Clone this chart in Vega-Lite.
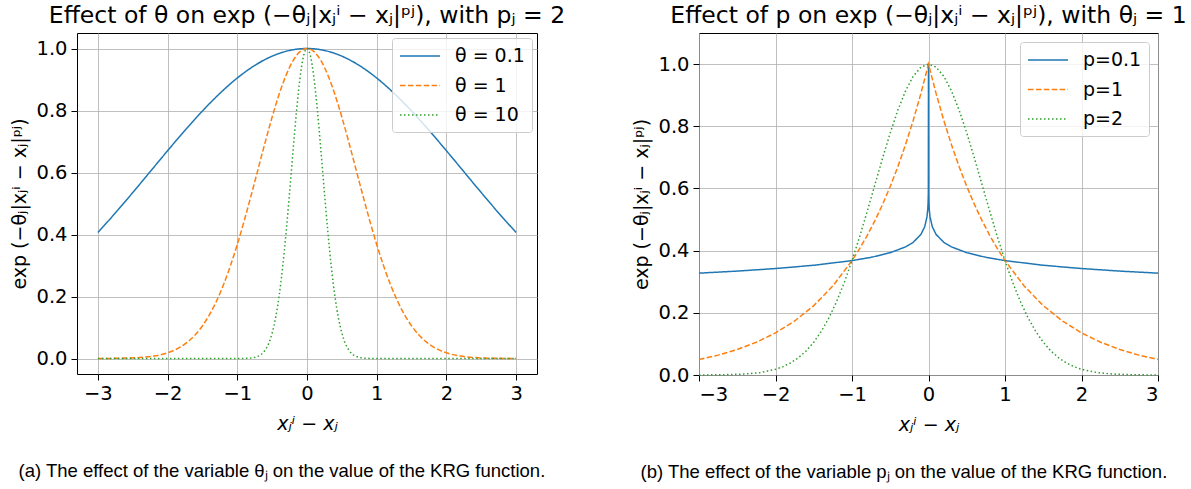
{
 "$schema": "https://vega.github.io/schema/vega-lite/v6.json",
 "background": "white",
 "padding": {"left": 10, "top": 3, "right": 5, "bottom": 5},
 "spacing": 66,
 "config": {
  "font": "DejaVu Sans",
  "view": {"stroke": "black", "strokeWidth": 1},
  "axis": {"labelFont": "DejaVu Sans", "labelFontSize": 19.5, "labelColor": "black", "titleFont": "DejaVu Sans", "titleFontSize": 19, "titleFontWeight": "normal", "titleColor": "black", "tickColor": "black", "tickSize": 6, "tickWidth": 1, "gridColor": "#b0b0b0", "gridWidth": 0.8, "domain": false, "labelPadding": 4},
  "axisX": {"titlePadding": 12},
  "axisY": {"titlePadding": 6},
  "title": {"font": "DejaVu Sans", "fontSize": 23.5, "fontWeight": "normal", "color": "black"},
  "legend": {"fillColor": "rgba(255,255,255,0.8)", "strokeColor": "#cccccc", "cornerRadius": 3, "padding": 7, "symbolType": "M-2,0H2", "symbolSize": 400, "symbolOffset": 10, "symbolStrokeWidth": 1.5, "labelFont": "DejaVu Sans", "labelFontSize": 19, "labelColor": "black", "labelOffset": 24, "rowPadding": 8.5}
 },
 "datasets": {
  "left": [
   {"x": -3, "y": 0.40657, "s": "θ = 0.1"}, {"x": -2.75, "y": 0.46942, "s": "θ = 0.1"}, {"x": -2.5, "y": 0.53526, "s": "θ = 0.1"}, {"x": -2.25, "y": 0.60276, "s": "θ = 0.1"}, {"x": -2, "y": 0.67032, "s": "θ = 0.1"}, {"x": -1.75, "y": 0.73619, "s": "θ = 0.1"}, {"x": -1.5, "y": 0.79852, "s": "θ = 0.1"}, {"x": -1.25, "y": 0.85535, "s": "θ = 0.1"}, {"x": -1, "y": 0.90484, "s": "θ = 0.1"}, {"x": -0.75, "y": 0.94531, "s": "θ = 0.1"}, {"x": -0.5, "y": 0.97531, "s": "θ = 0.1"}, {"x": -0.25, "y": 0.99377, "s": "θ = 0.1"}, {"x": 0, "y": 1, "s": "θ = 0.1"}, {"x": 0.25, "y": 0.99377, "s": "θ = 0.1"}, {"x": 0.5, "y": 0.97531, "s": "θ = 0.1"}, {"x": 0.75, "y": 0.94531, "s": "θ = 0.1"}, {"x": 1, "y": 0.90484, "s": "θ = 0.1"}, {"x": 1.25, "y": 0.85535, "s": "θ = 0.1"}, {"x": 1.5, "y": 0.79852, "s": "θ = 0.1"}, {"x": 1.75, "y": 0.73619, "s": "θ = 0.1"}, {"x": 2, "y": 0.67032, "s": "θ = 0.1"}, {"x": 2.25, "y": 0.60276, "s": "θ = 0.1"}, {"x": 2.5, "y": 0.53526, "s": "θ = 0.1"}, {"x": 2.75, "y": 0.46942, "s": "θ = 0.1"}, {"x": 3, "y": 0.40657, "s": "θ = 0.1"},
   {"x": -3, "y": 0.00012, "s": "θ = 1"}, {"x": -2.7, "y": 0.00068, "s": "θ = 1"}, {"x": -2.4, "y": 0.00315, "s": "θ = 1"}, {"x": -2.2, "y": 0.00791, "s": "θ = 1"}, {"x": -2.0, "y": 0.01832, "s": "θ = 1"}, {"x": -1.9, "y": 0.02705, "s": "θ = 1"}, {"x": -1.8, "y": 0.03916, "s": "θ = 1"}, {"x": -1.7, "y": 0.05558, "s": "θ = 1"}, {"x": -1.6, "y": 0.0773, "s": "θ = 1"}, {"x": -1.5, "y": 0.1054, "s": "θ = 1"}, {"x": -1.4, "y": 0.14086, "s": "θ = 1"}, {"x": -1.3, "y": 0.18452, "s": "θ = 1"}, {"x": -1.2, "y": 0.23693, "s": "θ = 1"}, {"x": -1.1, "y": 0.2982, "s": "θ = 1"}, {"x": -1.0, "y": 0.36788, "s": "θ = 1"}, {"x": -0.9, "y": 0.44486, "s": "θ = 1"}, {"x": -0.8, "y": 0.52729, "s": "θ = 1"}, {"x": -0.7, "y": 0.61263, "s": "θ = 1"}, {"x": -0.6, "y": 0.69768, "s": "θ = 1"}, {"x": -0.5, "y": 0.7788, "s": "θ = 1"}, {"x": -0.4, "y": 0.85214, "s": "θ = 1"}, {"x": -0.3, "y": 0.91393, "s": "θ = 1"}, {"x": -0.2, "y": 0.96079, "s": "θ = 1"}, {"x": -0.1, "y": 0.99005, "s": "θ = 1"}, {"x": 0, "y": 1, "s": "θ = 1"}, {"x": 0.1, "y": 0.99005, "s": "θ = 1"}, {"x": 0.2, "y": 0.96079, "s": "θ = 1"}, {"x": 0.3, "y": 0.91393, "s": "θ = 1"}, {"x": 0.4, "y": 0.85214, "s": "θ = 1"}, {"x": 0.5, "y": 0.7788, "s": "θ = 1"}, {"x": 0.6, "y": 0.69768, "s": "θ = 1"}, {"x": 0.7, "y": 0.61263, "s": "θ = 1"}, {"x": 0.8, "y": 0.52729, "s": "θ = 1"}, {"x": 0.9, "y": 0.44486, "s": "θ = 1"}, {"x": 1.0, "y": 0.36788, "s": "θ = 1"}, {"x": 1.1, "y": 0.2982, "s": "θ = 1"}, {"x": 1.2, "y": 0.23693, "s": "θ = 1"}, {"x": 1.3, "y": 0.18452, "s": "θ = 1"}, {"x": 1.4, "y": 0.14086, "s": "θ = 1"}, {"x": 1.5, "y": 0.1054, "s": "θ = 1"}, {"x": 1.6, "y": 0.0773, "s": "θ = 1"}, {"x": 1.7, "y": 0.05558, "s": "θ = 1"}, {"x": 1.8, "y": 0.03916, "s": "θ = 1"}, {"x": 1.9, "y": 0.02705, "s": "θ = 1"}, {"x": 2.0, "y": 0.01832, "s": "θ = 1"}, {"x": 2.2, "y": 0.00791, "s": "θ = 1"}, {"x": 2.4, "y": 0.00315, "s": "θ = 1"}, {"x": 2.7, "y": 0.00068, "s": "θ = 1"}, {"x": 3, "y": 0.00012, "s": "θ = 1"},
   {"x": -3, "y": 0, "s": "θ = 10"}, {"x": -2.5, "y": 0, "s": "θ = 10"}, {"x": -2, "y": 0, "s": "θ = 10"}, {"x": -1.5, "y": 0, "s": "θ = 10"}, {"x": -1, "y": 0.00005, "s": "θ = 10"}, {"x": -0.9, "y": 0.0003, "s": "θ = 10"}, {"x": -0.8, "y": 0.00166, "s": "θ = 10"}, {"x": -0.75, "y": 0.00361, "s": "θ = 10"}, {"x": -0.7, "y": 0.00745, "s": "θ = 10"}, {"x": -0.65, "y": 0.01463, "s": "θ = 10"}, {"x": -0.6, "y": 0.02732, "s": "θ = 10"}, {"x": -0.55, "y": 0.04856, "s": "θ = 10"}, {"x": -0.5, "y": 0.08208, "s": "θ = 10"}, {"x": -0.45, "y": 0.13199, "s": "θ = 10"}, {"x": -0.4, "y": 0.2019, "s": "θ = 10"}, {"x": -0.35, "y": 0.29376, "s": "θ = 10"}, {"x": -0.3, "y": 0.40657, "s": "θ = 10"}, {"x": -0.25, "y": 0.53526, "s": "θ = 10"}, {"x": -0.2, "y": 0.67032, "s": "θ = 10"}, {"x": -0.15, "y": 0.79852, "s": "θ = 10"}, {"x": -0.1, "y": 0.90484, "s": "θ = 10"}, {"x": -0.05, "y": 0.97531, "s": "θ = 10"}, {"x": 0, "y": 1, "s": "θ = 10"}, {"x": 0.05, "y": 0.97531, "s": "θ = 10"}, {"x": 0.1, "y": 0.90484, "s": "θ = 10"}, {"x": 0.15, "y": 0.79852, "s": "θ = 10"}, {"x": 0.2, "y": 0.67032, "s": "θ = 10"}, {"x": 0.25, "y": 0.53526, "s": "θ = 10"}, {"x": 0.3, "y": 0.40657, "s": "θ = 10"}, {"x": 0.35, "y": 0.29376, "s": "θ = 10"}, {"x": 0.4, "y": 0.2019, "s": "θ = 10"}, {"x": 0.45, "y": 0.13199, "s": "θ = 10"}, {"x": 0.5, "y": 0.08208, "s": "θ = 10"}, {"x": 0.55, "y": 0.04856, "s": "θ = 10"}, {"x": 0.6, "y": 0.02732, "s": "θ = 10"}, {"x": 0.65, "y": 0.01463, "s": "θ = 10"}, {"x": 0.7, "y": 0.00745, "s": "θ = 10"}, {"x": 0.75, "y": 0.00361, "s": "θ = 10"}, {"x": 0.8, "y": 0.00166, "s": "θ = 10"}, {"x": 0.9, "y": 0.0003, "s": "θ = 10"}, {"x": 1, "y": 0.00005, "s": "θ = 10"}, {"x": 1.5, "y": 0, "s": "θ = 10"}, {"x": 2, "y": 0, "s": "θ = 10"}, {"x": 2.5, "y": 0, "s": "θ = 10"}, {"x": 3, "y": 0, "s": "θ = 10"}
  ],
  "right": [
   {"x": -3, "y": 0.32755, "s": "p=0.1"}, {"x": -2.5, "y": 0.33422, "s": "p=0.1"}, {"x": -2, "y": 0.3424, "s": "p=0.1"}, {"x": -1.5, "y": 0.35297, "s": "p=0.1"}, {"x": -1, "y": 0.36788, "s": "p=0.1"}, {"x": -0.75, "y": 0.37846, "s": "p=0.1"}, {"x": -0.5, "y": 0.39336, "s": "p=0.1"}, {"x": -0.3, "y": 0.41207, "s": "p=0.1"}, {"x": -0.2, "y": 0.42684, "s": "p=0.1"}, {"x": -0.1, "y": 0.45188, "s": "p=0.1"}, {"x": -0.05, "y": 0.47657, "s": "p=0.1"}, {"x": -0.02, "y": 0.50852, "s": "p=0.1"}, {"x": -0.01, "y": 0.53208, "s": "p=0.1"}, {"x": -0.006, "y": 0.54906, "s": "p=0.1"}, {"x": -0.002, "y": 0.58441, "s": "p=0.1"}, {"x": 0, "y": 1, "s": "p=0.1"}, {"x": 0.002, "y": 0.58441, "s": "p=0.1"}, {"x": 0.006, "y": 0.54906, "s": "p=0.1"}, {"x": 0.01, "y": 0.53208, "s": "p=0.1"}, {"x": 0.02, "y": 0.50852, "s": "p=0.1"}, {"x": 0.05, "y": 0.47657, "s": "p=0.1"}, {"x": 0.1, "y": 0.45188, "s": "p=0.1"}, {"x": 0.2, "y": 0.42684, "s": "p=0.1"}, {"x": 0.3, "y": 0.41207, "s": "p=0.1"}, {"x": 0.5, "y": 0.39336, "s": "p=0.1"}, {"x": 0.75, "y": 0.37846, "s": "p=0.1"}, {"x": 1, "y": 0.36788, "s": "p=0.1"}, {"x": 1.5, "y": 0.35297, "s": "p=0.1"}, {"x": 2, "y": 0.3424, "s": "p=0.1"}, {"x": 2.5, "y": 0.33422, "s": "p=0.1"}, {"x": 3, "y": 0.32755, "s": "p=0.1"},
   {"x": -3, "y": 0.04979, "s": "p=1"}, {"x": -2.75, "y": 0.06393, "s": "p=1"}, {"x": -2.5, "y": 0.08208, "s": "p=1"}, {"x": -2.25, "y": 0.1054, "s": "p=1"}, {"x": -2, "y": 0.13534, "s": "p=1"}, {"x": -1.75, "y": 0.17377, "s": "p=1"}, {"x": -1.5, "y": 0.22313, "s": "p=1"}, {"x": -1.25, "y": 0.2865, "s": "p=1"}, {"x": -1, "y": 0.36788, "s": "p=1"}, {"x": -0.9, "y": 0.40657, "s": "p=1"}, {"x": -0.8, "y": 0.44933, "s": "p=1"}, {"x": -0.7, "y": 0.49659, "s": "p=1"}, {"x": -0.6, "y": 0.54881, "s": "p=1"}, {"x": -0.5, "y": 0.60653, "s": "p=1"}, {"x": -0.4, "y": 0.67032, "s": "p=1"}, {"x": -0.3, "y": 0.74082, "s": "p=1"}, {"x": -0.2, "y": 0.81873, "s": "p=1"}, {"x": -0.1, "y": 0.90484, "s": "p=1"}, {"x": 0, "y": 1, "s": "p=1"}, {"x": 0.1, "y": 0.90484, "s": "p=1"}, {"x": 0.2, "y": 0.81873, "s": "p=1"}, {"x": 0.3, "y": 0.74082, "s": "p=1"}, {"x": 0.4, "y": 0.67032, "s": "p=1"}, {"x": 0.5, "y": 0.60653, "s": "p=1"}, {"x": 0.6, "y": 0.54881, "s": "p=1"}, {"x": 0.7, "y": 0.49659, "s": "p=1"}, {"x": 0.8, "y": 0.44933, "s": "p=1"}, {"x": 0.9, "y": 0.40657, "s": "p=1"}, {"x": 1, "y": 0.36788, "s": "p=1"}, {"x": 1.25, "y": 0.2865, "s": "p=1"}, {"x": 1.5, "y": 0.22313, "s": "p=1"}, {"x": 1.75, "y": 0.17377, "s": "p=1"}, {"x": 2, "y": 0.13534, "s": "p=1"}, {"x": 2.25, "y": 0.1054, "s": "p=1"}, {"x": 2.5, "y": 0.08208, "s": "p=1"}, {"x": 2.75, "y": 0.06393, "s": "p=1"}, {"x": 3, "y": 0.04979, "s": "p=1"},
   {"x": -3, "y": 0.00012, "s": "p=2"}, {"x": -2.7, "y": 0.00068, "s": "p=2"}, {"x": -2.4, "y": 0.00315, "s": "p=2"}, {"x": -2.2, "y": 0.00791, "s": "p=2"}, {"x": -2.0, "y": 0.01832, "s": "p=2"}, {"x": -1.9, "y": 0.02705, "s": "p=2"}, {"x": -1.8, "y": 0.03916, "s": "p=2"}, {"x": -1.7, "y": 0.05558, "s": "p=2"}, {"x": -1.6, "y": 0.0773, "s": "p=2"}, {"x": -1.5, "y": 0.1054, "s": "p=2"}, {"x": -1.4, "y": 0.14086, "s": "p=2"}, {"x": -1.3, "y": 0.18452, "s": "p=2"}, {"x": -1.2, "y": 0.23693, "s": "p=2"}, {"x": -1.1, "y": 0.2982, "s": "p=2"}, {"x": -1.0, "y": 0.36788, "s": "p=2"}, {"x": -0.9, "y": 0.44486, "s": "p=2"}, {"x": -0.8, "y": 0.52729, "s": "p=2"}, {"x": -0.7, "y": 0.61263, "s": "p=2"}, {"x": -0.6, "y": 0.69768, "s": "p=2"}, {"x": -0.5, "y": 0.7788, "s": "p=2"}, {"x": -0.4, "y": 0.85214, "s": "p=2"}, {"x": -0.3, "y": 0.91393, "s": "p=2"}, {"x": -0.2, "y": 0.96079, "s": "p=2"}, {"x": -0.1, "y": 0.99005, "s": "p=2"}, {"x": 0, "y": 1, "s": "p=2"}, {"x": 0.1, "y": 0.99005, "s": "p=2"}, {"x": 0.2, "y": 0.96079, "s": "p=2"}, {"x": 0.3, "y": 0.91393, "s": "p=2"}, {"x": 0.4, "y": 0.85214, "s": "p=2"}, {"x": 0.5, "y": 0.7788, "s": "p=2"}, {"x": 0.6, "y": 0.69768, "s": "p=2"}, {"x": 0.7, "y": 0.61263, "s": "p=2"}, {"x": 0.8, "y": 0.52729, "s": "p=2"}, {"x": 0.9, "y": 0.44486, "s": "p=2"}, {"x": 1.0, "y": 0.36788, "s": "p=2"}, {"x": 1.1, "y": 0.2982, "s": "p=2"}, {"x": 1.2, "y": 0.23693, "s": "p=2"}, {"x": 1.3, "y": 0.18452, "s": "p=2"}, {"x": 1.4, "y": 0.14086, "s": "p=2"}, {"x": 1.5, "y": 0.1054, "s": "p=2"}, {"x": 1.6, "y": 0.0773, "s": "p=2"}, {"x": 1.7, "y": 0.05558, "s": "p=2"}, {"x": 1.8, "y": 0.03916, "s": "p=2"}, {"x": 1.9, "y": 0.02705, "s": "p=2"}, {"x": 2.0, "y": 0.01832, "s": "p=2"}, {"x": 2.2, "y": 0.00791, "s": "p=2"}, {"x": 2.4, "y": 0.00315, "s": "p=2"}, {"x": 2.7, "y": 0.00068, "s": "p=2"}, {"x": 3, "y": 0.00012, "s": "p=2"}
  ]
 },
 "hconcat": [
  {
   "title": {"text": "(a) The effect of the variable θⱼ on the value of the KRG function.", "orient": "bottom", "font": "Liberation Sans", "fontSize": 18.5, "offset": 28, "dx": 8},
   "resolve": {"scale": {"color": "independent", "strokeDash": "independent"}, "legend": {"color": "independent", "strokeDash": "independent"}},
   "vconcat": [
    {
     "title": {"text": "Effect of θ on exp (−θⱼ|xⱼⁱ − xⱼ|ᵖʲ), with pⱼ = 2", "offset": 6, "frame": "group"},
     "width": 460,
     "height": 341,
     "data": {"name": "left"},
     "mark": {"type": "line", "strokeWidth": 1.5, "interpolate": "monotone"},
     "encoding": {
      "x": {"field": "x", "type": "quantitative", "scale": {"domain": [-3.3, 3.3], "nice": false, "zero": false}, "axis": {"values": [-3, -2, -1, 0, 1, 2, 3], "title": "xⱼⁱ − xⱼ", "titleFontStyle": "italic"}},
      "y": {"field": "y", "type": "quantitative", "scale": {"domain": [-0.05, 1.05], "nice": false, "zero": false}, "axis": {"values": [0, 0.2, 0.4, 0.6, 0.8, 1.0], "format": ".1f", "title": "exp (−θⱼ|xⱼⁱ − xⱼ|ᵖʲ)"}},
      "color": {"field": "s", "type": "nominal", "scale": {"domain": ["θ = 0.1", "θ = 1", "θ = 10"], "range": ["#1f77b4", "#ff7f0e", "#2ca02c"]}, "legend": {"title": null, "orient": "top-right", "offset": 5}},
      "strokeDash": {"field": "s", "type": "nominal", "scale": {"domain": ["θ = 0.1", "θ = 1", "θ = 10"], "range": [[1, 0], [5.5, 2.4], [1.5, 2.5]]}, "legend": {"title": null, "orient": "top-right", "offset": 5}}
     }
    }
   ]
  },
  {
   "title": {"text": "(b) The effect of the variable pⱼ on the value of the KRG function.", "orient": "bottom", "font": "Liberation Sans", "fontSize": 18.5, "offset": 28, "dx": 8},
   "resolve": {"scale": {"color": "independent", "strokeDash": "independent"}, "legend": {"color": "independent", "strokeDash": "independent"}},
   "vconcat": [
    {
     "title": {"text": "Effect of p on exp (−θⱼ|xⱼⁱ − xⱼ|ᵖʲ), with θⱼ = 1", "offset": 6, "frame": "group"},
     "width": 459,
     "height": 342,
     "data": {"name": "right"},
     "mark": {"type": "line", "strokeWidth": 1.5},
     "encoding": {
      "x": {"field": "x", "type": "quantitative", "scale": {"domain": [-3, 3], "nice": false, "zero": false}, "axis": {"values": [-3, -2, -1, 0, 1, 2, 3], "title": "xⱼⁱ − xⱼ", "titleFontStyle": "italic"}},
      "y": {"field": "y", "type": "quantitative", "scale": {"domain": [0, 1.1], "nice": false, "zero": false}, "axis": {"values": [0, 0.2, 0.4, 0.6, 0.8, 1.0], "format": ".1f", "title": "exp (−θⱼ|xⱼⁱ − xⱼ|ᵖʲ)"}},
      "color": {"field": "s", "type": "nominal", "scale": {"domain": ["p=0.1", "p=1", "p=2"], "range": ["#1f77b4", "#ff7f0e", "#2ca02c"]}, "legend": {"title": null, "orient": "top-right", "offset": 9}},
      "strokeDash": {"field": "s", "type": "nominal", "scale": {"domain": ["p=0.1", "p=1", "p=2"], "range": [[1, 0], [5.5, 2.4], [1.5, 2.5]]}, "legend": {"title": null, "orient": "top-right", "offset": 9}}
     }
    }
   ]
  }
 ],
 "resolve": {"scale": {"color": "independent", "strokeDash": "independent"}, "legend": {"color": "independent", "strokeDash": "independent"}}
}
